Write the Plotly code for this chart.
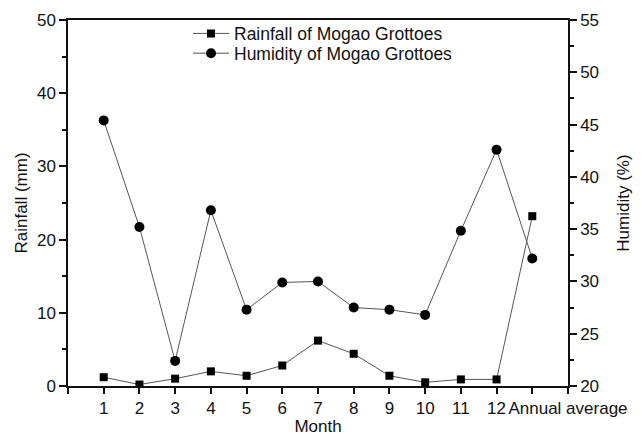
import plotly.graph_objects as go

# Monthly climate of the Mogao Grottoes
months = ["1", "2", "3", "4", "5", "6", "7", "8", "9", "10", "11", "12", "Annual average"]
rainfall_mm = [1.2, 0.2, 1.0, 2.0, 1.4, 2.8, 6.2, 4.4, 1.4, 0.5, 0.9, 0.9, 23.2]
humidity_pct = [45.4, 35.2, 22.4, 36.8, 27.3, 29.9, 30.0, 27.5, 27.3, 26.8, 34.85, 42.6, 32.2]

# numeric positions for the categories (1..13), axis spans 0..14
xpos = list(range(1, len(months) + 1))
tick_vals = list(range(0, len(months) + 2))
tick_text = [""] + months[:-1] + ["", months[-1]]

FONT = "Liberation Sans, Arial, sans-serif"
INK = "#111111"
LINE = "#555555"

fig = go.Figure()
fig.add_trace(go.Scatter(
    x=xpos, y=rainfall_mm, name="Rainfall of Mogao Grottoes",
    mode="lines+markers",
    line=dict(color=LINE, width=1),
    marker=dict(symbol="square", size=8, color="black"),
    legend="legend", showlegend=True,
))
fig.add_trace(go.Scatter(
    x=xpos, y=humidity_pct, name="Humidity of Mogao Grottoes",
    mode="lines+markers", yaxis="y2",
    line=dict(color=LINE, width=1),
    marker=dict(symbol="circle", size=10, color="black"),
    legend="legend2", showlegend=True,
))

axis_common = dict(
    showline=True, linecolor=INK, linewidth=1.5,
    ticks="outside", tickcolor=INK, tickwidth=1.5,
    showgrid=False, zeroline=False, automargin=False,
    tickfont=dict(family=FONT, size=17, color=INK),
    title_font=dict(family=FONT, size=17, color=INK),
)

legend_common = dict(
    xanchor="left", yanchor="middle", bgcolor="rgba(0,0,0,0)",
    font=dict(family=FONT, size=17.5, color=INK),
    itemwidth=36, borderwidth=0, visible=True,
)

fig.update_layout(
    width=642, height=436,
    margin=dict(l=68, r=74, t=20, b=50),
    paper_bgcolor="white", plot_bgcolor="white",
    showlegend=True,
    xaxis=dict(
        range=[0, len(months) + 1], tickmode="array",
        tickvals=tick_vals, ticktext=tick_text, ticklen=6,
        mirror=True, title=dict(text="Month", standoff=7),
        **axis_common,
    ),
    yaxis=dict(
        range=[0, 50], dtick=10, ticklen=7,
        minor=dict(ticks="outside", ticklen=4, dtick=5, tickcolor=INK, tickwidth=1.5),
        title=dict(text="Rainfall (mm)", standoff=5),
        **axis_common,
    ),
    yaxis2=dict(
        range=[20, 55], dtick=5, ticklen=7, overlaying="y", side="right",
        minor=dict(ticks="outside", ticklen=4, dtick=2.5, tickcolor=INK, tickwidth=1.5),
        title=dict(text="Humidity (%)", standoff=19),
        **axis_common,
    ),
    legend=dict(x=0.240, y=0.963, **legend_common),
    legend2=dict(x=0.240, y=0.909, **legend_common),
)

fig.write_html("out.html")
